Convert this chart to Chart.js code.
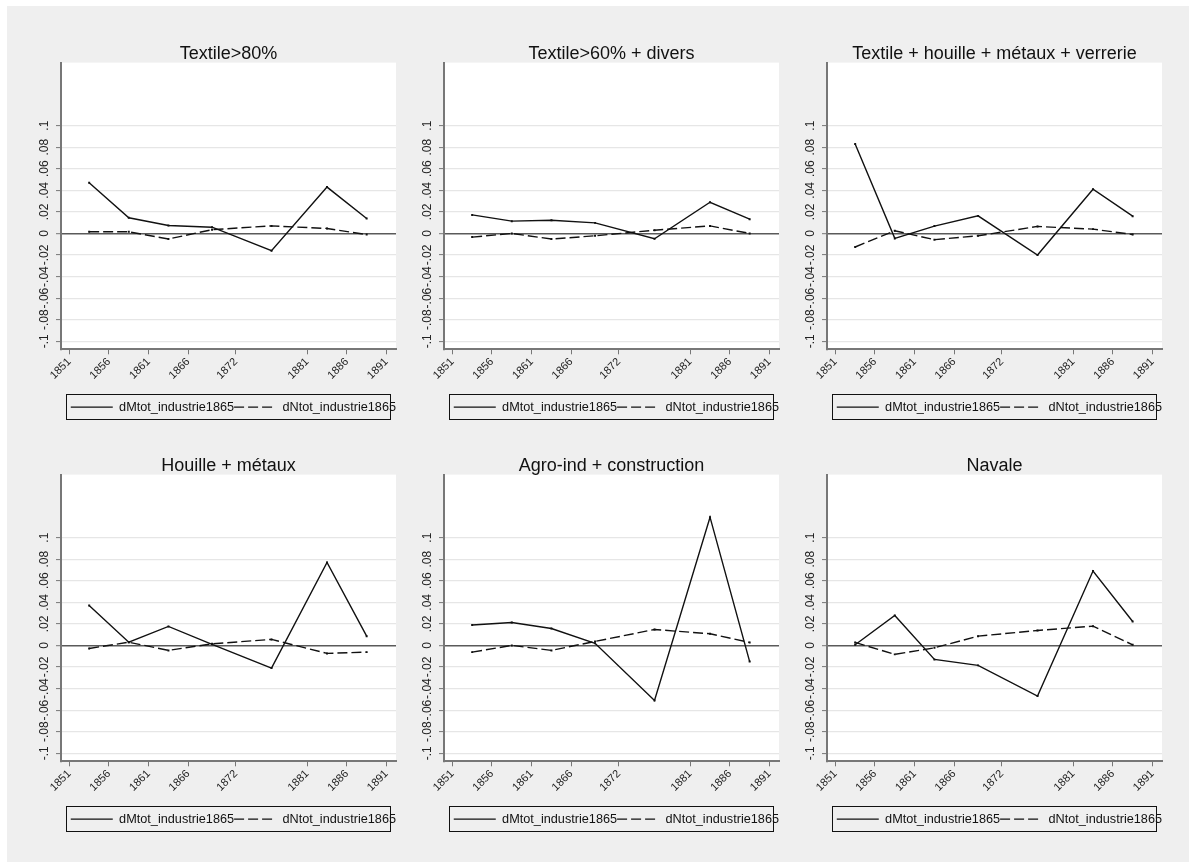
<!DOCTYPE html>
<html>
<head>
<meta charset="utf-8">
<script src="https://cdn.jsdelivr.net/npm/chart.js@4.4.0/dist/chart.umd.min.js"></script>
<style>
body { margin: 0; background: #fff; }
#bg { position: absolute; left: 7px; top: 6px; width: 1182px; height: 856px; background: #efefef; }
canvas { position: absolute; }
</style>
</head>
<body>
<div id="bg"></div>
<canvas id="p0"></canvas>
<canvas id="p1"></canvas>
<canvas id="p2"></canvas>
<canvas id="p3"></canvas>
<canvas id="p4"></canvas>
<canvas id="p5"></canvas>
<script>
// periods (midpoints between census years)
var years = [1853.5, 1858.5, 1863.5, 1869, 1876.5, 1883.5, 1888.5];
var xTicks = [1851, 1856, 1861, 1866, 1872, 1881, 1886, 1891];
var yTicks = [-0.1, -0.08, -0.06, -0.04, -0.02, 0, 0.02, 0.04, 0.06, 0.08, 0.1];

var titles = ['Textile>80%', 'Textile>60% + divers', 'Textile + houille + métaux + verrerie',
  'Houille + métaux', 'Agro-ind + construction', 'Navale'];
var seriesNames = ['dMtot_industrie1865', 'dNtot_industrie1865'];

var mTextile80 = [0.047, 0.0145, 0.0074, 0.0058, -0.016, 0.043, 0.0138];
var nTextile80 = [0.0015, 0.0015, -0.0052, 0.0035, 0.007, 0.0046, -0.001];
var mTextile60 = [0.0172, 0.0114, 0.0123, 0.0098, -0.0049, 0.0289, 0.0132];
var nTextile60 = [-0.0034, 0, -0.0052, -0.0022, 0.003, 0.007, 0];
var mTextileMix = [0.083, -0.0046, 0.0068, 0.0163, -0.02, 0.041, 0.016];
var nTextileMix = [-0.0126, 0.0025, -0.0058, -0.0022, 0.0065, 0.004, -0.001];
var mHouille = [0.037, 0.003, 0.0176, 0.001, -0.021, 0.077, 0.0086];
var nHouille = [-0.0028, 0.003, -0.0046, 0.0015, 0.0056, -0.0074, -0.0062];
var mAgro = [0.019, 0.0213, 0.0157, 0.002, -0.051, 0.119, -0.015];
var nAgro = [-0.0062, 0, -0.0046, 0.0037, 0.0148, 0.0108, 0.0028];
var mNavale = [0.0006, 0.0278, -0.013, -0.0185, -0.047, 0.069, 0.0222];
var nNavale = [0.0028, -0.0083, -0.0022, 0.0086, 0.0139, 0.0179, 0.0006];

var mSeries = [mTextile80, mTextile60, mTextileMix, mHouille, mAgro, mNavale];
var nSeries = [nTextile80, nTextile60, nTextileMix, nHouille, nAgro, nNavale];

var FONT = "'Liberation Sans', Arial, sans-serif";
var colLeft = [17, 400, 783];
var rowTop = [6, 418];

function fmtY(v) {
  if (v === 0) return '0';
  var s = String(Math.abs(+v.toFixed(2))).replace(/^0/, '');
  return (v < 0 ? '-' : '') + s;
}

function pts(arr) {
  return arr.map(function (v, i) { return {x: years[i], y: v}; });
}

var plotBg = {
  id: 'plotBg',
  beforeDraw: function (chart) {
    var a = chart.chartArea, ctx = chart.ctx;
    ctx.save();
    ctx.fillStyle = '#fff';
    ctx.fillRect(a.left, a.top, a.right - a.left, a.bottom - a.top);
    ctx.restore();
  }
};

var legendFrame = {
  id: 'legendFrame',
  afterDraw: function (chart) {
    var a = chart.chartArea, lg = chart.legend, ctx = chart.ctx;
    ctx.save();
    ctx.strokeStyle = '#111';
    ctx.lineWidth = 1;
    ctx.strokeRect(Math.round(a.left + 5) + 0.5, Math.round(lg.top - 6.5) + 0.5,
      Math.round(a.right - a.left - 11), 25);
    ctx.restore();
  }
};

for (var i = 0; i < 6; i++) {
  var cv = document.getElementById('p' + i);
  cv.width = 383; cv.height = 424;
  cv.style.left = colLeft[i % 3] + 'px';
  cv.style.top = rowTop[Math.floor(i / 3)] + 'px';
  cv.style.width = '383px'; cv.style.height = '424px';

  new Chart(cv.getContext('2d'), {
    type: 'line',
    data: {
      datasets: [
        {
          label: seriesNames[0],
          data: pts(mSeries[i]),
          borderColor: '#111',
          borderWidth: 1.4,
          pointRadius: 1.4,
          pointStyle: 'rect',
          pointBackgroundColor: '#111',
          pointBorderWidth: 0,
          tension: 0
        },
        {
          label: seriesNames[1],
          data: pts(nSeries[i]),
          borderColor: '#111',
          borderWidth: 1.4,
          borderDash: [10, 4],
          pointRadius: 1.4,
          pointStyle: 'rect',
          pointBackgroundColor: '#111',
          pointBorderWidth: 0,
          tension: 0
        }
      ]
    },
    options: {
      responsive: false,
      animation: false,
      layout: {padding: {top: 0, left: 0, right: 3, bottom: 6.5}},
      scales: {
        x: {
          type: 'linear',
          min: 1849.95,
          max: 1892.2,
          afterBuildTicks: function (s) { s.ticks = xTicks.map(function (v) { return {value: v}; }); },
          afterFit: function (s) { s.height = 51.5; },
          border: {display: true, color: '#777', width: 2},
          grid: {drawOnChartArea: false, drawTicks: true, tickLength: 5, tickColor: '#777', tickWidth: 1},
          ticks: {
            autoSkip: false, minRotation: 45, maxRotation: 45, padding: 1,
            color: '#222', font: {family: FONT, size: 11},
            callback: function (v) { return String(v); }
          }
        },
        y: {
          type: 'linear',
          min: -0.1075,
          max: 0.1585,
          afterBuildTicks: function (s) { s.ticks = yTicks.map(function (v) { return {value: v}; }); },
          afterFit: function (s) { s.width = 44; },
          border: {display: true, color: '#777', width: 2},
          grid: {
            drawTicks: true, tickLength: 5, tickColor: '#777', tickWidth: 1,
            color: function (c) { return c.tick && c.tick.value === 0 ? '#5a5a5a' : '#e6e6e6'; },
            lineWidth: function (c) { return c.tick && c.tick.value === 0 ? 1.4 : 1.2; }
          },
          ticks: {
            autoSkip: false, minRotation: 90, maxRotation: 90, padding: 1, crossAlign: 'center',
            color: '#222', font: {family: FONT, size: 12},
            callback: function (v) { return fmtY(v); }
          }
        }
      },
      plugins: {
        title: {
          display: true, text: titles[i], fullSize: false, color: '#111',
          font: {family: FONT, size: 18, weight: 'normal'},
          padding: {top: 37, bottom: -2}
        },
        legend: {
          position: 'bottom', fullSize: false, align: 'end',
          labels: {
            usePointStyle: true, pointStyle: 'line', pointStyleWidth: 42,
            padding: 0, color: '#111', font: {family: FONT, size: 12.7},
            generateLabels: function (chart) {
              return chart.data.datasets.map(function (ds, k) {
                return {
                  text: ds.label, datasetIndex: k, hidden: false,
                  fillStyle: '#111', strokeStyle: '#111', fontColor: '#111',
                  lineWidth: 1.3, lineDash: ds.borderDash || [], pointStyle: 'line'
                };
              });
            }
          }
        },
        tooltip: {enabled: false}
      }
    },
    plugins: [plotBg, legendFrame]
  });
}
</script>
</body>
</html>
